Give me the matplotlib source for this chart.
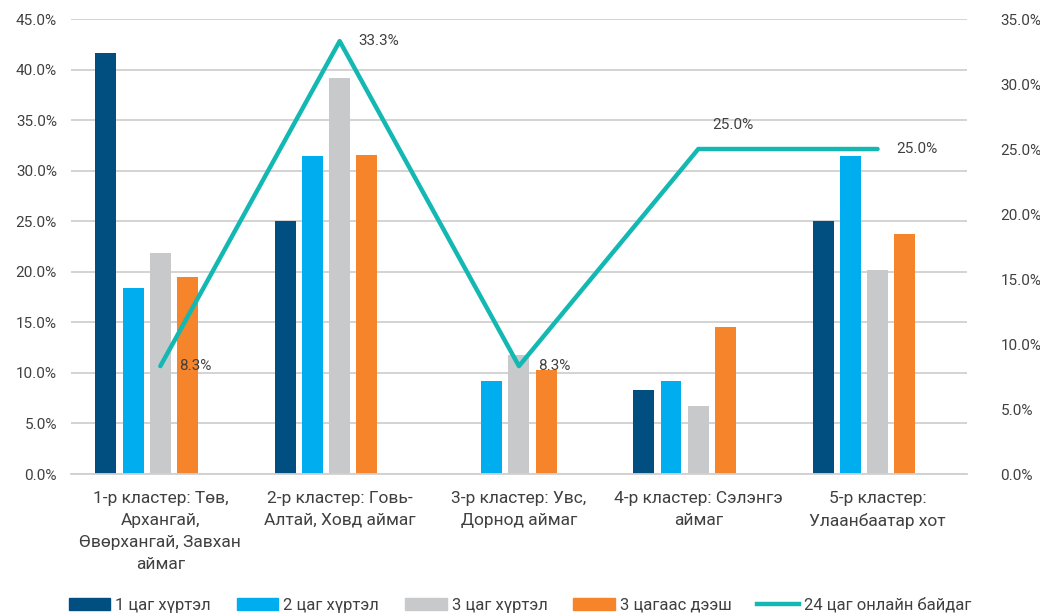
import numpy as np
import matplotlib.pyplot as plt
from matplotlib.ticker import FuncFormatter, MultipleLocator
from matplotlib.patches import Patch
from matplotlib.lines import Line2D

plt.rcParams['font.family'] = ['Roboto', 'DejaVu Sans']

clusters = [
    "1-р кластер: Төв,\nАрхангай,\nӨвөрхангай, Завхан\nаймаг",
    "2-р кластер: Говь-\nАлтай, Ховд аймаг",
    "3-р кластер: Увс,\nДорнод аймаг",
    "4-р кластер: Сэлэнгэ\nаймаг",
    "5-р кластер:\nУлаанбаатар хот",
]
series_names = ["1 цаг хүртэл", "2 цаг хүртэл", "3 цаг хүртэл", "3 цагаас дээш"]
upto_1h = [41.6, 25.0, 0.0, 8.3, 25.0]
upto_2h = [18.4, 31.5, 9.2, 9.2, 31.5]
upto_3h = [21.9, 39.2, 11.8, 6.7, 20.2]
over_3h = [19.5, 31.6, 10.3, 14.5, 23.7]
online_name = "24 цаг онлайн байдаг"
online_24h = [8.3, 33.3, 8.3, 25.0, 25.0]

colors = ["#004f80", "#00aeef", "#c8c9cb", "#f5842a"]
line_color = "#14b8b2"
text_color = "#404040"

fig = plt.figure(figsize=(10.4, 6.14), dpi=100)
ax = fig.add_axes([0.068, 0.228, 0.862, 0.741])
ax2 = ax.twinx()

x = np.arange(len(clusters))
step = 0.152
width = 0.117
for k, vals in enumerate([upto_1h, upto_2h, upto_3h, over_3h]):
    ax.bar(x + (k - 2) * step, vals, width, color=colors[k], zorder=2)

ax2.plot(x, online_24h, color=line_color, lw=3.2, solid_capstyle='round', zorder=3)
offsets = [(13.5, 0), (13.5, 0), (13.5, 0), (10, 17), (13.5, 0)]
for xi, v, (dx, dy) in zip(x, online_24h, offsets):
    ax2.annotate(f"{v:.1f}%", (xi, v), xytext=(dx, dy), textcoords='offset points',
                 xycoords='data', ha='left', va='center', fontsize=11,
                 color=text_color)

ax.set_xlim(-0.5, len(clusters) - 0.5)
ax.set_ylim(0, 45)
ax2.set_ylim(0, 35)
ax.yaxis.set_major_locator(MultipleLocator(5))
ax2.yaxis.set_major_locator(MultipleLocator(5))
pct = FuncFormatter(lambda v, _: f"{v:.1f}%")
ax.yaxis.set_major_formatter(pct)
ax2.yaxis.set_major_formatter(pct)

ax.set_xticks(x)
ax.set_xticklabels(clusters, fontsize=12.5, color=text_color, linespacing=1.58, va='top')
ax.grid(axis='y', color='#d0d0d0', lw=1.3, zorder=0)
ax.set_axisbelow(True)
for a in (ax, ax2):
    for s in a.spines.values():
        s.set_visible(False)
    a.tick_params(length=0, labelsize=11, labelcolor=text_color)
ax.spines['bottom'].set_visible(True)
ax.spines['bottom'].set_color('#d0d0d0')
ax.spines['bottom'].set_linewidth(1.3)
ax.tick_params(axis='x', pad=12, labelsize=12.5)
ax.tick_params(axis='y', pad=10)
ax2.tick_params(axis='y', pad=24)

handles = [Patch(color=c) for c in colors] + [Line2D([], [], color=line_color, lw=3.2)]
labels = series_names + [online_name]
fig.legend(handles, labels, loc='lower center', bbox_to_anchor=(0.5, -0.022), ncol=5,
           frameon=False, fontsize=12, handlelength=2.5, handleheight=0.7,
           handletextpad=0.3, columnspacing=1.55, labelcolor=text_color)

fig.savefig("out.png", dpi=100)
